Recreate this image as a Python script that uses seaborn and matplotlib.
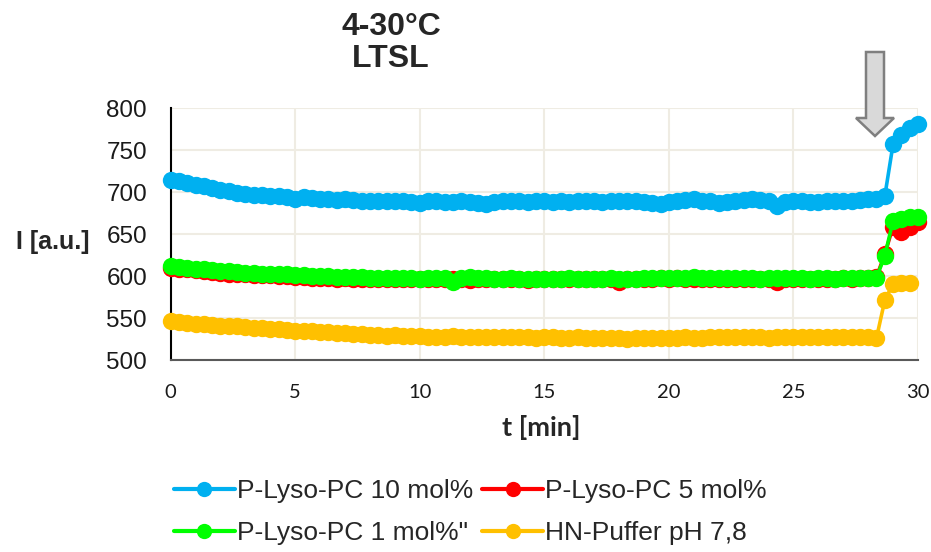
import numpy as np
import pandas as pd
import matplotlib
matplotlib.use("Agg")
import matplotlib.pyplot as plt
from matplotlib.patches import Polygon
import seaborn as sns

# Sampling interval of the fluorescence readout (20 s)
step_min = 1 / 3

labels = ["P-Lyso-PC 10 mol%", "P-Lyso-PC 5 mol%", "P-Lyso-PC 1 mol%\"", "HN-Puffer pH 7,8"]
colors = ["#00B0F0", "#FF0000", "#00FF00", "#FFC000"]

lyso10 = [714, 713, 711, 709, 707, 705, 703, 701, 699, 698, 697, 697, 696, 695, 694,
          692, 694, 693, 692, 692, 691, 692, 691, 690, 690, 689, 689, 690, 689, 688,
          687, 689, 689, 688, 688, 689, 688, 687, 686, 688, 690, 690, 689, 688, 689,
          689, 688, 689, 688, 690, 689, 689, 688, 689, 689, 690, 689, 688, 687, 686,
          688, 690, 691, 692, 690, 689, 687, 688, 689, 691, 692, 691, 689, 684, 688,
          689, 689, 688, 688, 689, 690, 690, 690, 691, 692, 692,
          695, 757, 768, 776, 781]

lyso5 = [610, 609, 608, 607, 606, 605, 604, 603, 602, 602, 601, 601, 601, 600, 600,
         599, 599, 598, 598, 598, 597, 598, 597, 597, 596, 597, 596, 596, 597, 597,
         596, 596, 597, 596, 597, 596, 595, 596, 597, 596, 596, 596, 596, 595, 596,
         596, 597, 596, 596, 596, 596, 596, 596, 596, 593, 596, 597, 596, 597, 598,
         597, 598, 597, 596, 597, 597, 596, 597, 597, 596, 597, 597, 596, 593, 597,
         597, 597, 596, 597, 597, 597, 598, 597, 598, 598, 599,
         626, 659, 653, 658, 665]

lyso1 = [612, 611, 610, 609, 608, 607, 606, 606, 605, 604, 604, 603, 603, 602, 602,
         601, 601, 600, 600, 600, 599, 599, 599, 599, 598, 598, 598, 598, 598, 598,
         597, 598, 598, 598, 593, 598, 599, 598, 598, 597, 597, 598, 597, 597, 597,
         597, 597, 597, 598, 597, 597, 597, 597, 598, 597, 597, 597, 598, 598, 598,
         598, 598, 598, 599, 598, 598, 598, 598, 598, 598, 598, 597, 598, 598, 598,
         598, 598, 597, 598, 598, 597, 598, 598, 598, 598, 598,
         624, 666, 668, 670, 671]

buffer = [547, 545, 544, 543, 543, 542, 541, 540, 540, 539, 538, 538, 537, 537, 536,
          535, 534, 534, 533, 533, 532, 532, 531, 531, 530, 530, 529, 530, 529, 529,
          529, 528, 528, 528, 529, 528, 527, 528, 527, 527, 527, 527, 527, 527, 526,
          527, 527, 526, 526, 527, 526, 526, 526, 526, 526, 525, 526, 526, 526, 526,
          526, 526, 527, 526, 526, 527, 527, 527, 527, 527, 527, 527, 526, 527, 527,
          527, 527, 527, 527, 527, 527, 527, 527, 527, 527, 526,
          571, 591, 592, 592]

x_ticks = [0, 5, 10, 15, 20, 25, 30]
y_ticks = [500, 550, 600, 650, 700, 750, 800]

frames = []
for name, vals in zip(labels, [lyso10, lyso5, lyso1, buffer]):
    t = np.arange(len(vals)) * step_min
    frames.append(pd.DataFrame({"t": t, "I": vals, "sample": name}))
df = pd.concat(frames, ignore_index=True)

sns.set_theme(style="white")
plt.rcParams["font.family"] = ["Liberation Sans", "DejaVu Sans"]

fig = plt.figure(figsize=(9.31, 5.52), dpi=100)
ax = fig.add_axes([0.1833, 0.3478, 0.8027, 0.4560])

sns.lineplot(data=df, x="t", y="I", hue="sample", hue_order=labels,
             palette=dict(zip(labels, colors)), marker="o", markersize=12.5,
             markeredgewidth=0, linewidth=2.6, estimator=None, sort=False,
             errorbar=None, ax=ax, legend=True, zorder=3)
for ln in ax.lines:
    ln.set_clip_on(False)

ax.set_xlim(0, 30)
ax.set_ylim(500, 800)
ax.set_xticks(x_ticks)
ax.set_yticks(y_ticks)
ax.set_xticklabels([str(v) for v in x_ticks], family="Lato", fontsize=14.5,
                   color="#1a1a1a")
ax.set_yticklabels([str(v) for v in y_ticks], fontsize=17.5, color="#1a1a1a")
ax.tick_params(axis="x", length=0, pad=17)
ax.tick_params(axis="y", length=0, pad=17)

ax.grid(True, color="#EFECE3", linewidth=1.5, zorder=0)
ax.set_axisbelow(True)
for side in ["top", "right"]:
    ax.spines[side].set_visible(False)
ax.spines["left"].set_color("black")
ax.spines["left"].set_linewidth(1.5)
ax.spines["bottom"].set_color("#595959")
ax.spines["bottom"].set_linewidth(1.5)

ax.set_xlabel("")
ax.set_ylabel("")
fig.text(541 / 931, 1 - 428 / 552, "t [min]", ha="center", va="center",
         family="Lato", fontweight="bold", fontsize=19.5)
fig.text(90 / 931, 1 - 242 / 552, "I [a.u.]", ha="right", va="center",
         fontsize=18, fontweight="bold")

fig.text(391 / 931, 1 - 43 / 552, "4-30°C\nLTSL", ha="center", va="center",
         fontsize=23, fontweight="bold", linespacing=1.12)

# Downward marker arrow above the curves
arrow_px = [(866, 52), (884, 52), (884, 118), (894, 118), (875, 136),
            (856, 118), (866, 118)]
arrow_in = [(x / 100, (552 - y) / 100) for x, y in arrow_px]
fig.patches.append(Polygon(arrow_in, closed=True, transform=fig.dpi_scale_trans,
                           facecolor="#D9D9D9", edgecolor="#7F7F7F", linewidth=1.8))

handles, lbls = ax.get_legend_handles_labels()
ax.get_legend().remove()
# two columns filled row by row: 10 mol% | 5 mol% / 1 mol% | buffer
order = [0, 2, 1, 3]
leg = fig.legend([handles[i] for i in order], [lbls[i] for i in order],
                 loc="center left", bbox_to_anchor=(174 / 931, 1 - 512 / 552),
                 ncol=2, frameon=False, fontsize=19, handlelength=2.3,
                 handletextpad=0.08, columnspacing=0.35, labelspacing=0.68,
                 borderpad=0, borderaxespad=0)
for h in leg.legend_handles:
    h.set_linewidth(3.0)
    h.set_markersize(11)

fig.savefig("out.png", dpi=100)
